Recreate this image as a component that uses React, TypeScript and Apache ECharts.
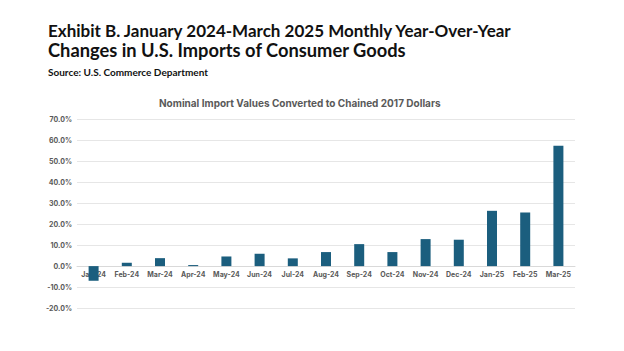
import React, { useEffect, useRef } from "react";
import * as echarts from "echarts";

const categories = ["Jan-24", "Feb-24", "Mar-24", "Apr-24", "May-24", "Jun-24", "Jul-24", "Aug-24", "Sep-24", "Oct-24", "Nov-24", "Dec-24", "Jan-25", "Feb-25", "Mar-25"];
const yoyChange = [-7.0, 1.6, 3.8, 0.5, 4.6, 5.9, 3.7, 6.7, 10.5, 6.7, 12.9, 12.6, 26.4, 25.6, 57.5];

const titleLine1 = "Exhibit B. January 2024-March 2025 Monthly Year-Over-Year";
const titleLine2 = "Changes in U.S. Imports of Consumer Goods";
const sourceText = "Source: U.S. Commerce Department";
const chartTitle = "Nominal Import Values Converted to Chained 2017 Dollars";

export default function App() {
  const ref = useRef<HTMLDivElement>(null);
  useEffect(() => {
    if (!ref.current) return;
    const chart = echarts.init(ref.current, null, { renderer: "svg" });
    const font = "Inter, 'Noto Sans', sans-serif";
    const tfont = "Lato, Inter, sans-serif";
    chart.setOption({
      animation: false,
      backgroundColor: "#ffffff",
      textStyle: { fontFamily: font },
      graphic: [
        {
          type: "text",
          left: 48,
          top: 22,
          style: { text: titleLine1, font: `bold 17px ${tfont}`, fill: "#111111" },
        },
        {
          type: "text",
          left: 48,
          top: 41,
          style: { text: titleLine2, font: `bold 18.3px ${tfont}`, fill: "#111111" },
        },
        {
          type: "text",
          left: 48,
          top: 67,
          style: { text: sourceText, font: `bold 10px ${tfont}`, fill: "#111111" },
        },
        {
          type: "text",
          left: 159,
          top: 98,
          style: { text: chartTitle, font: `bold 10px ${font}`, fill: "#595959" },
        },
      ],
      grid: { left: 77, right: 49, top: 119.5, bottom: 43, containLabel: false },
      xAxis: {
        type: "category",
        data: categories,
        offset: -41.9,
        axisLine: { onZero: false, lineStyle: { color: "#d9d9d9" } },
        axisTick: { show: false },
        axisLabel: { color: "#595959", fontSize: 7, fontWeight: "bold", margin: 5, interval: 0 },
        z: 1,
      },
      yAxis: {
        type: "value",
        min: -20,
        max: 70,
        interval: 10,
        axisLine: { show: false },
        axisTick: { show: false },
        splitLine: { lineStyle: { color: "#e6e6e6" } },
        axisLabel: {
          color: "#595959",
          fontSize: 7,
          fontWeight: "bold",
          margin: 5,
          formatter: (v: number) => v.toFixed(1) + "%",
        },
      },
      series: [
        {
          type: "bar",
          data: yoyChange,
          barWidth: 10,
          itemStyle: { color: "#1B5E7E" },
          z: 2,
        },
      ],
    });
    return () => chart.dispose();
  }, []);
  return <div ref={ref} style={{ width: 624, height: 351, position: "absolute", left: 0, top: 0 }} />;
}
